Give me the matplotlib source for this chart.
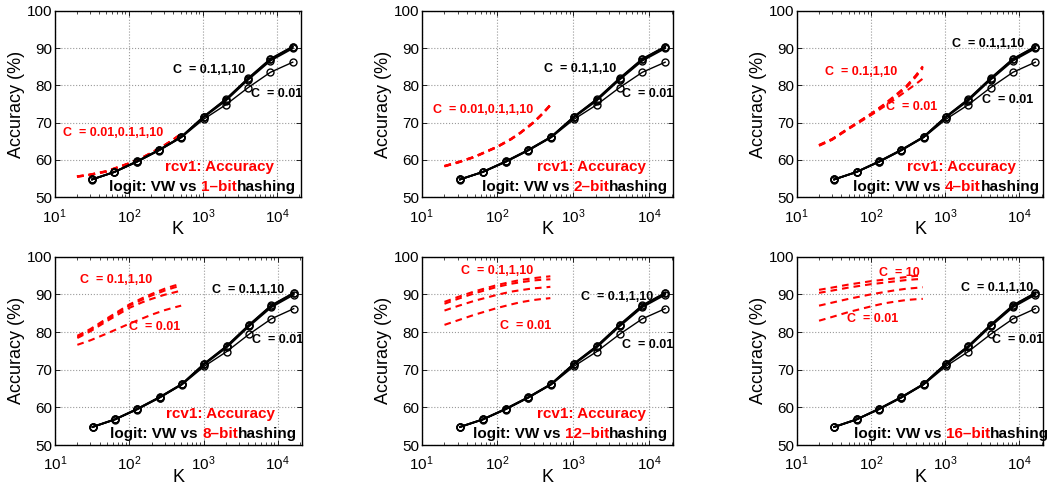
import matplotlib
matplotlib.use("Agg")
import matplotlib.pyplot as plt
from matplotlib.ticker import LogLocator, FixedLocator

plt.rcParams['font.family'] = ['Liberation Sans', 'DejaVu Sans']
plt.rcParams['mathtext.fontset'] = 'custom'
plt.rcParams['mathtext.rm'] = 'Liberation Sans'
plt.rcParams['mathtext.it'] = 'Liberation Sans:italic'
plt.rcParams['mathtext.bf'] = 'Liberation Sans:bold'

# ---------------- data ----------------
K_vw = [32, 64, 128, 256, 512, 1024, 2048, 4096, 8192, 16384]
vw_c001 = [54.7, 56.7, 59.4, 62.5, 66.0, 70.9, 74.8, 79.4, 83.5, 86.2]
vw_c01 = [54.8, 56.8, 59.5, 62.6, 66.1, 71.4, 75.9, 81.5, 86.6, 89.9]
vw_c1 = [54.8, 56.8, 59.6, 62.7, 66.2, 71.6, 76.2, 81.8, 87.0, 90.3]
vw_c10 = [54.8, 56.8, 59.6, 62.7, 66.2, 71.6, 76.3, 81.9, 87.1, 90.4]

K_hash = [20, 30, 50, 100, 150, 200, 300, 400, 500]

h1_c001 = [55.5, 56.0, 56.9, 59.0, 60.5, 61.8, 63.8, 65.4, 66.8]
h1_c01 = [55.5, 56.0, 56.9, 59.0, 60.5, 61.8, 63.8, 65.4, 66.8]
h1_c1 = [55.6, 56.1, 57.0, 59.1, 60.6, 61.9, 63.9, 65.5, 66.9]
h1_c10 = [55.6, 56.1, 57.0, 59.1, 60.6, 61.9, 63.9, 65.5, 66.9]

h2_c001 = [58.3, 59.3, 60.8, 63.5, 65.5, 67.2, 70.0, 72.5, 74.6]
h2_c01 = [58.3, 59.3, 60.8, 63.5, 65.5, 67.2, 70.0, 72.5, 74.7]
h2_c1 = [58.4, 59.4, 60.9, 63.6, 65.6, 67.3, 70.1, 72.6, 74.8]
h2_c10 = [58.4, 59.4, 60.9, 63.6, 65.6, 67.3, 70.1, 72.6, 74.8]

h4_c001 = [63.8, 65.4, 68.3, 72.0, 74.3, 76.0, 78.5, 80.3, 81.8]
h4_c01 = [63.9, 65.5, 68.4, 72.2, 74.6, 76.6, 79.4, 82.2, 84.6]
h4_c1 = [64.0, 65.6, 68.5, 72.3, 74.8, 76.8, 79.7, 82.5, 85.0]
h4_c10 = [64.0, 65.6, 68.5, 72.4, 74.9, 76.9, 79.8, 82.6, 85.1]

h8_c001 = [76.6, 77.8, 79.6, 82.2, 83.6, 84.6, 85.8, 86.5, 87.0]
h8_c01 = [78.4, 80.2, 82.9, 86.4, 87.9, 88.8, 89.9, 90.5, 91.0]
h8_c1 = [78.7, 80.5, 83.3, 87.0, 88.6, 89.7, 91.0, 91.8, 92.3]
h8_c10 = [79.0, 80.8, 83.6, 87.3, 89.0, 90.1, 91.5, 92.3, 92.8]

h12_c001 = [81.9, 83.1, 84.6, 86.4, 87.3, 87.9, 88.5, 88.8, 89.0]
h12_c01 = [85.7, 86.9, 88.3, 89.9, 90.7, 91.1, 91.6, 91.8, 92.0]
h12_c1 = [87.5, 88.8, 90.3, 92.0, 92.8, 93.2, 93.7, 93.9, 94.0]
h12_c10 = [88.0, 89.3, 90.8, 92.5, 93.3, 93.8, 94.3, 94.6, 94.8]

h16_c001 = [83.0, 84.0, 85.3, 86.8, 87.6, 88.0, 88.5, 88.7, 88.8]
h16_c01 = [87.0, 87.8, 88.8, 90.0, 90.6, 91.0, 91.5, 91.7, 91.9]
h16_c1 = [90.4, 91.0, 91.8, 92.7, 93.1, 93.4, 93.8, 94.0, 94.1]
h16_c10 = [91.2, 91.8, 92.6, 93.5, 93.9, 94.2, 94.6, 94.9, 95.0]

bits = ["1", "2", "4", "8", "12", "16"]
hash_sets = [
    [h1_c001, h1_c01, h1_c1, h1_c10],
    [h2_c001, h2_c01, h2_c1, h2_c10],
    [h4_c001, h4_c01, h4_c1, h4_c10],
    [h8_c001, h8_c01, h8_c1, h8_c10],
    [h12_c001, h12_c01, h12_c1, h12_c10],
    [h16_c001, h16_c01, h16_c1, h16_c10],
]

# black labels (x, y) in data coords
black_hi_pos = [(400, 84.0), (417, 84.3), (1230, 91.1), (1290, 91.1), (1260, 89.3), (1660, 91.7)]
black_lo_pos = [(4470, 77.6), (4470, 77.8), (3100, 76.0), (4470, 77.8), (4370, 76.6), (4260, 78.0)]
# red labels: list of (text, x, y)
red_labels = [
    [("C  = 0.01,0.1,1,10", 13, 67.3)],
    [("C  = 0.01,0.1,1,10", 14.3, 73.5)],
    [("C  = 0.1,1,10", 24, 83.5), ("C  = 0.01", 158, 74.2)],
    [("C  = 0.1,1,10", 21.4, 93.8), ("C  = 0.01", 100, 81.3)],
    [("C  = 0.1,1,10", 33, 96.2), ("C  = 0.01", 109, 81.5)],
    [("C  = 10", 130, 95.7), ("C  = 0.01", 47.5, 83.5)],
]
show_rcv1 = [True, True, True, True, True, False]
title_right = [0.98, 0.98, 0.986, 0.98, 0.98, 1.024]

# ---------------- layout ----------------
W, H = 1053, 486
fig = plt.figure(figsize=(W / 100, H / 100), dpi=100)
boxes_px = [
    (54.7, 10.7, 300.7, 197.3), (421.7, 10.7, 673.3, 197.3), (796.7, 10.7, 1043.3, 197.3),
    (55.0, 256.7, 301.7, 445.0), (421.7, 256.7, 673.3, 445.0), (796.7, 256.7, 1043.3, 445.0),
]

RED = '#ff0000'
for i, (x0, y0, x1, y1) in enumerate(boxes_px):
    ax = fig.add_axes([x0 / W, 1 - y1 / H, (x1 - x0) / W, (y1 - y0) / H])
    ax.set_xscale('log')
    # red dashed hashing curves
    for ser in hash_sets[i]:
        ax.plot(K_hash, ser, color=RED, lw=1.5, linestyle=(0, (3.2, 2.4)))
    # black VW curves
    ax.plot(K_vw, vw_c001, color='black', lw=1.0, marker='o', ms=5, mfc='none', mec='black', mew=1.0)
    for ser in (vw_c01, vw_c1, vw_c10):
        ax.plot(K_vw, ser, color='black', lw=1.3, marker='o', ms=5, mfc='none', mec='black', mew=1.0)

    ax.set_xlim(10, 2.1e4)
    ax.set_ylim(50, 100)
    ax.yaxis.set_major_locator(FixedLocator([50, 60, 70, 80, 90, 100]))
    ax.xaxis.set_major_locator(LogLocator(base=10, numticks=10))
    ax.xaxis.set_minor_locator(LogLocator(base=10, subs=range(2, 10), numticks=20))
    ax.tick_params(which='both', direction='in', top=True, right=True, labelsize=11)
    ax.tick_params(axis='x', which='major', pad=7)
    ax.tick_params(axis='y', which='major', pad=2)
    ax.tick_params(which='major', length=3.5, width=0.6)
    ax.tick_params(which='minor', length=2, width=0.5)
    ax.grid(True, which='major', linestyle=':', color='#9a9a9a', lw=0.8)
    for s in ax.spines.values():
        s.set_linewidth(1.0)
    ax.set_xlabel('K', fontsize=13, labelpad=-3)
    ax.set_ylabel('Accuracy (%)', fontsize=13, labelpad=1)

    ax.text(*black_hi_pos[i], "C  = 0.1,1,10", fontsize=9, fontweight='bold', color='black', va='center', ha='left')
    ax.text(*black_lo_pos[i], "C  = 0.01", fontsize=9, fontweight='bold', color='black', va='center', ha='left')
    for (t, x, y) in red_labels[i]:
        ax.text(x, y, t, fontsize=9, fontweight='bold', color=RED, va='center', ha='left')

    if show_rcv1[i]:
        ax.text(0.89, 0.164, "rcv1: Accuracy", transform=ax.transAxes, fontsize=11,
                fontweight='bold', color=RED, ha='right', va='center')
    t3 = ax.text(title_right[i], 0.057, "hashing", transform=ax.transAxes, fontsize=11,
                 fontweight='bold', color='black', ha='right', va='center', clip_on=False)
    t2 = ax.annotate(bits[i] + "\u2013bit", xy=(0, 0), xycoords=t3, fontsize=11,
                     fontweight='bold', color=RED, ha='right', va='bottom', annotation_clip=False)
    ax.annotate("logit: VW vs ", xy=(0, 0), xycoords=t2, fontsize=11,
                fontweight='bold', color='black', ha='right', va='bottom', annotation_clip=False)

fig.savefig('out.png', dpi=100)
